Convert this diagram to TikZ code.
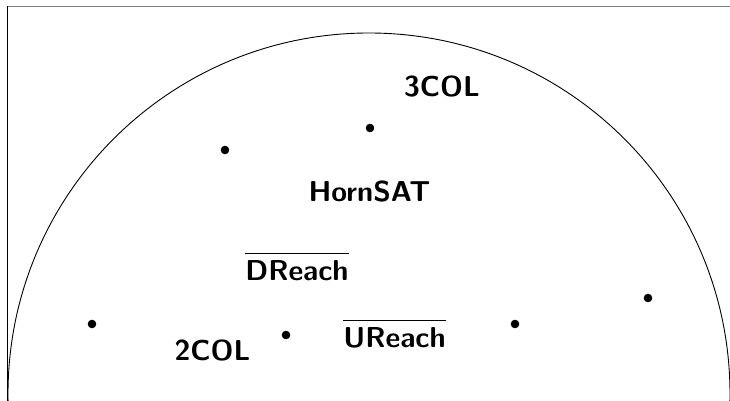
\documentclass[tikz,border=0pt]{standalone}
\newcommand{\compl}[1]{$\overline{\mbox{#1}\rule{0pt}{12.6pt}}$}
\begin{document}
\begin{tikzpicture}[x=0.5pt, y=0.5pt,
    pt/.style={circle, fill, inner sep=0pt, minimum size=4.3pt},
    lbl/.style={font=\Large\sffamily\bfseries, inner sep=0pt, anchor=base}]
  \useasboundingbox (0,0) rectangle (730,401);
  \clip (0,0) rectangle (730,401);
  % frame corner and the big circle
  \draw[gray, line width=0.65pt] (7.5,394.5) -- (730,394.5);
  \draw[line width=0.5pt] (7.5,394.5) -- (7.5,0);
  \draw[line width=0.45pt] (369,7) circle (361);
  % problems
  \node[pt] (p1) at (225,251) {};
  \node[pt] (p2) at (370,273) {};
  \node[pt] (p3) at (92,77) {};
  \node[pt] (p4) at (286,66) {};
  \node[pt] (p5) at (515,77) {};
  \node[pt] (p6) at (648,103) {};
  \node[lbl] (col3) at (442,304) {3COL};
  \node[lbl] (horn) at (369.5,199) {HornSAT};
  \node[lbl] (dreach) at (297,120) {\compl{DReach}};
  \node[lbl] (ureach) at (394.5,53) {\compl{UReach}};
  \node[lbl] (col2) at (212.5,40) {2COL};
\end{tikzpicture}
\end{document}
